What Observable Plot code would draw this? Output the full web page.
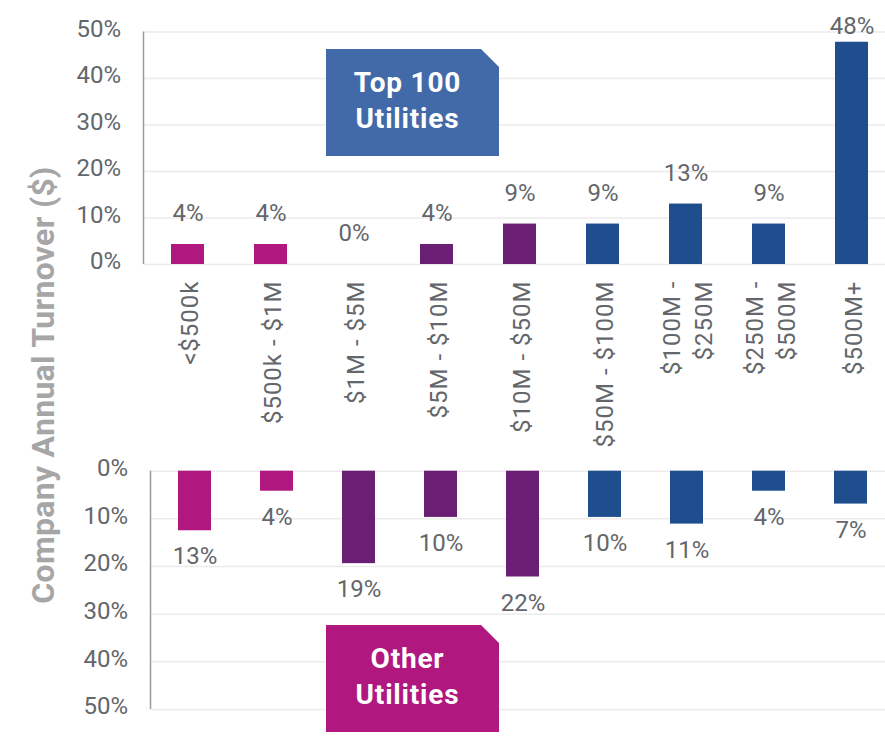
<!DOCTYPE html>
<html><head><meta charset="utf-8">
<script src="https://cdn.jsdelivr.net/npm/d3@7"></script>
<script src="https://cdn.jsdelivr.net/npm/@observablehq/plot@0.6"></script>
<style>
body{margin:0;background:#fff;font-family:Roboto,sans-serif;}
#wrap{position:relative;width:885px;height:742px;overflow:hidden;background:#fff;}
#top,#bottom{position:absolute;left:0;}
#top{top:0}
#bottom{top:440px}
.box{position:absolute;left:326px;width:173px;height:107px;display:flex;align-items:center;justify-content:center;text-align:center;color:#fff;font-family:Roboto,sans-serif;font-weight:bold;font-size:28px;letter-spacing:0.8px;line-height:36px;clip-path:polygon(0 0,155px 0,173px 18px,173px 107px,0 107px);padding-right:10px;padding-bottom:4px;box-sizing:border-box;}
#ytitle{position:absolute;left:43px;top:385px;transform:translate(-50%,-50%) rotate(-90deg);font-family:Roboto,sans-serif;font-weight:bold;font-size:32px;letter-spacing:0.3px;color:#a6a6a6;white-space:nowrap;}
.xlab text{letter-spacing:1px;}
</style></head>
<body><div id="wrap">
<div id="top"></div><div id="bottom"></div>
<div class="box" style="top:49px;background:#436aa8">Top 100<br>Utilities</div>
<div class="box" style="top:625px;background:#b0177f">Other<br>Utilities</div>
<div id="ytitle">Company Annual Turnover ($)</div>
</div>
<script>
const categories = ["<$500k","$500k - $1M","$1M - $5M","$5M - $10M","$10M - $50M","$50M - $100M","$100M -\n$250M","$250M -\n$500M","$500M+"];
const sizeGroups = ["small","small","mid","mid","mid","large","large","large","large"];
const top100Values = [4.3,4.3,0,4.3,8.7,8.7,13.0,8.7,47.8];
const top100Labels = ["4%","4%","0%","4%","9%","9%","13%","9%","48%"];
const otherValues = [12.5,4.2,19.4,9.7,22.2,9.7,11.1,4.2,6.9];
const otherLabels = ["13%","4%","19%","10%","22%","10%","11%","4%","7%"];
const yTicks = [0,10,20,30,40,50];

const groupColors = {domain: ["small","mid","large"], range: ["#b0177f","#6b1f74","#1f4e8f"]};
const textGray = "#63666a";

const topData = categories.map((c,i)=>({cat:c, value:top100Values[i], label:top100Labels[i], group:sizeGroups[i]}));
const otherData = categories.map((c,i)=>({cat:c, value:otherValues[i], label:otherLabels[i], group:sizeGroups[i]}));

const leftLine = (index, scales, values, dimensions) => {
  const x = dimensions.marginLeft;
  return d3.create("svg:line")
    .attr("x1", x).attr("x2", x)
    .attr("y1", scales.y(50)).attr("y2", scales.y(0))
    .attr("stroke", "#9a9a9a").attr("stroke-width", 1.5).node();
};

const common = {
  width: 885, marginRight: 0,
  style: {fontFamily: "Roboto, sans-serif", fontSize: "24px", color: textGray, background: "transparent", overflow: "visible"},
  color: groupColors
};

const topPlot = Plot.plot({
  ...common,
  height: 440, marginLeft: 143.5, marginTop: 31.5, marginBottom: 176,
  x: {domain: categories, range: [143.5, 895], paddingInner: 0.6, paddingOuter: 0.3, label: null},
  y: {domain: [0,50], label: null},
  marks: [
    Plot.gridY(yTicks, {stroke: "#ebebeb", strokeOpacity: 1, strokeWidth: 1.5}),
    Plot.axisY(yTicks, {tickSize: 0, tickPadding: 23, tickFormat: d => d + "%", fontSize: 24, fill: textGray, label: null, dy: -3}),
    Plot.axisX({tickSize: 0, tickPadding: 16, tickRotate: -90, fontSize: 24, fill: textGray, label: null, lineHeight: 1.3, className: "xlab"}),
    Plot.barY(topData, {x: "cat", y: "value", fill: "group"}),
    Plot.text(topData.filter(d => d.value < 40), {x: "cat", y: "value", text: "label", dy: -31, fill: textGray, fontSize: 24}),
    Plot.text(topData.filter(d => d.value >= 40), {x: "cat", y: "value", text: "label", dy: -16, fill: textGray, fontSize: 24}),
    leftLine
  ]
});
document.getElementById("top").append(topPlot);

const bottomPlot = Plot.plot({
  ...common,
  height: 302, marginLeft: 150.5, marginTop: 30.7, marginBottom: 33,
  x: {domain: categories, range: [150.5, 894.7], paddingInner: 0.6, paddingOuter: 0.3, axis: null},
  y: {domain: [0,50], reverse: true, label: null},
  marks: [
    Plot.gridY(yTicks, {stroke: "#ebebeb", strokeOpacity: 1, strokeWidth: 1.5}),
    Plot.axisY(yTicks, {tickSize: 0, tickPadding: 23, tickFormat: d => d + "%", fontSize: 24, fill: textGray, label: null, dy: -3}),
    Plot.barY(otherData, {x: "cat", y: "value", fill: "group"}),
    Plot.text(otherData, {x: "cat", y: "value", text: "label", dy: 26, fill: textGray, fontSize: 24}),
    leftLine
  ]
});
document.getElementById("bottom").append(bottomPlot);
</script>
</body></html>
